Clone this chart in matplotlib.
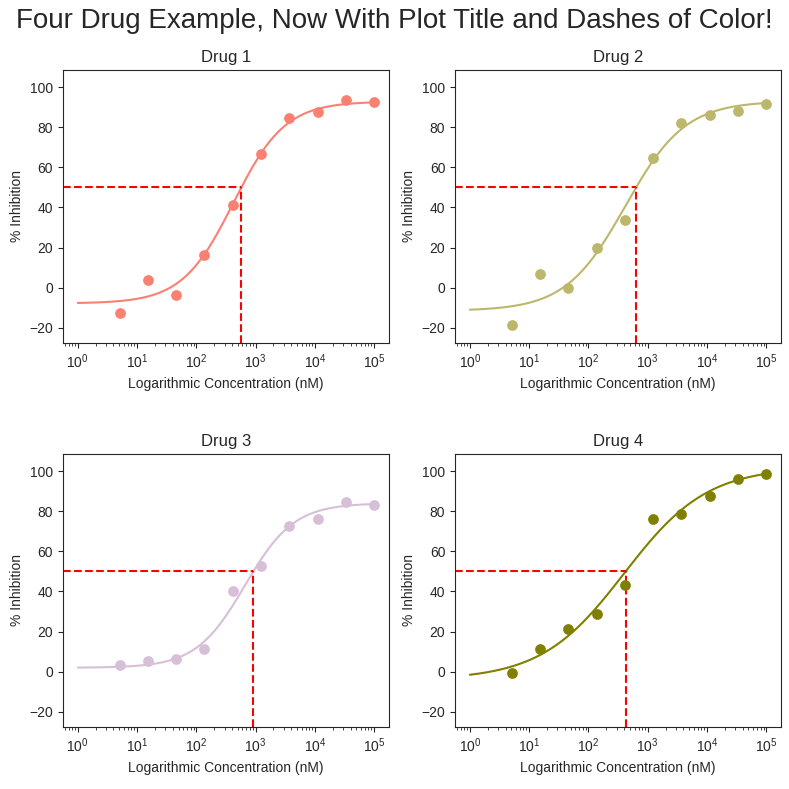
import numpy as np
import matplotlib
matplotlib.use("Agg")
import matplotlib.pyplot as plt
import seaborn as sns

sns.set_style("ticks")
plt.rcParams['font.family'] = ['Liberation Sans', 'DejaVu Sans']

# Data
concentration = [5.08, 15.2, 45.7, 137, 412, 1235, 3704, 11111, 33333, 100000]
drug_names = ["Drug 1", "Drug 2", "Drug 3", "Drug 4"]
drug1 = [-12.7, 4.0, -3.8, 16.3, 41.3, 66.8, 84.8, 87.8, 93.3, 92.5]
drug2 = [-18.7, 7.0, 0.0, 19.8, 33.8, 64.8, 82.0, 86.0, 88.0, 91.5]
drug3 = [3.5, 5.3, 6.5, 11.5, 40.0, 52.5, 72.5, 76.0, 84.5, 83.3]
drug4 = [-0.7, 11.3, 21.3, 28.8, 43.3, 76.0, 78.8, 87.5, 96.0, 98.5]
colors = ["salmon", "darkkhaki", "thistle", "olive"]

# 4-parameter logistic fit parameters (bottom, top, ic50, hill)
bottoms = [-7.8, -11.5, 2.0, -4.0]
tops = [92.8, 93.0, 84.0, 102.0]
ic50s = [425, 420, 660, 400]
hills = [1.0, 0.86, 1.05, 0.62]

title = "Four Drug Example, Now With Plot Title and Dashes of Color!"
xlabel = "Logarithmic Concentration (nM)"
ylabel = "% Inhibition"


def four_pl(x, b, t, c, h):
    return b + (t - b) / (1 + (c / x) ** h)


def inverse_four_pl(y, b, t, c, h):
    return c / ((t - b) / (y - b) - 1) ** (1 / h)


fig, axes = plt.subplots(2, 2, figsize=(7.89, 7.89), dpi=100)
fig.subplots_adjust(left=0.0798, right=0.990, top=0.9113, bottom=0.0786,
                    wspace=0.2025, hspace=0.4066)
fig.suptitle(title, fontsize=20, y=0.99)

all_data = [drug1, drug2, drug3, drug4]
xs = np.logspace(0, 5, 400)
for ax, name, ys, col, b, t, c, h in zip(axes.flat, drug_names, all_data, colors,
                                          bottoms, tops, ic50s, hills):
    ax.plot(xs, four_pl(xs, b, t, c, h), color=col, lw=1.5)
    ax.scatter(concentration, ys, color=col, s=45, zorder=3)
    ax.set_xscale("log")
    ax.set_ylim(-27.5, 108.5)
    ax.set_title(name, fontsize=12)
    ax.set_xlabel(xlabel, fontsize=10)
    ax.set_ylabel(ylabel, fontsize=10)
    ax.tick_params(labelsize=10)
    xlim = ax.get_xlim()
    ylim = ax.get_ylim()
    x50 = inverse_four_pl(50, b, t, c, h)
    ax.plot([xlim[0], x50], [50, 50], "r--", lw=1.5)
    ax.plot([x50, x50], [ylim[0], 50], "r--", lw=1.5)
    ax.set_xlim(xlim)
    ax.set_ylim(ylim)

fig.savefig("out.png", dpi=100)
